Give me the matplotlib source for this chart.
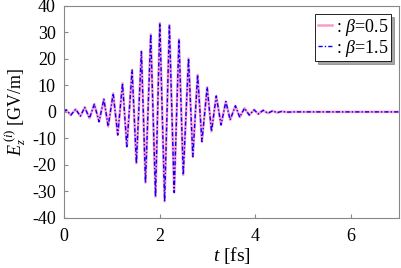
import numpy as np
import matplotlib
matplotlib.use("Agg")
import matplotlib.pyplot as plt

plt.rcParams['font.family'] = ['Liberation Serif', 'DejaVu Serif']
plt.rcParams['mathtext.fontset'] = 'custom'
plt.rcParams['mathtext.rm'] = 'Liberation Serif'
plt.rcParams['mathtext.it'] = 'Liberation Serif:italic'
plt.rcParams['axes.unicode_minus'] = False
plt.rcParams['font.size'] = 13

# --- data (extrema of the oscillating field) ---
t_fs = [0.00, 0.04, 0.14, 0.24, 0.34, 0.43, 0.53, 0.63, 0.73, 0.83, 0.92,
        1.025, 1.12, 1.22, 1.31, 1.42, 1.51, 1.615, 1.70, 1.81, 1.91,
        2.00, 2.10, 2.20, 2.30, 2.40, 2.49, 2.60, 2.69, 2.79, 2.88,
        2.99, 3.08, 3.18, 3.28, 3.38, 3.47, 3.58, 3.67, 3.77, 3.87,
        3.97, 4.06, 4.16, 4.26, 4.36, 4.45, 4.55, 4.65, 4.80, 7.00]
e_beta05 = [0.0, 0.8, -1.2, 1.0, -1.6, 1.7, -2.4, 2.9, -3.7, 4.8, -5.5,
            7.0, -8.7, 10.8, -13.1, 15.8, -19.4, 22.8, -26.7, 29.3, -32.0,
            33.5, -33.8, 32.8, -30.4, 27.4, -23.8, 20.2, -16.9, 14.0, -11.2,
            9.3, -7.4, 6.0, -4.9, 3.9, -3.0, 2.3, -2.0, 1.4, -1.2,
            0.8, -0.8, 0.6, -0.5, 0.4, -0.3, 0.2, -0.1, 0.0, 0.0]
e_beta15 = list(e_beta05)  # curves overlap in the reference

fig = plt.figure(figsize=(4.01, 2.68), dpi=100)
ax = fig.add_axes([0.16, 0.187, 0.835, 0.791])

ax.plot(t_fs, e_beta05, color='#ff99cc', lw=1.8, ls='-', label=r': $\beta$=0.5')
ax.plot(t_fs, e_beta15, color='#0000ff', lw=1.0, ls='-.', dashes=(3, 1.5, 1, 1.5),
        label=r': $\beta$=1.5')

ax.set_xlim(0, 7)
ax.set_ylim(-40, 40)
ax.set_xticks([0, 2, 4, 6])
ax.set_yticks(np.arange(-40, 41, 10))
ax.tick_params(direction='in', length=3, color='#888888', labelsize=13)
ax.tick_params(axis='x', pad=7)
ax.tick_params(axis='y', pad=6)
for s in ax.spines.values():
    s.set_color('#888888')

ax.set_xlabel(r'$t$ [fs]', fontsize=14, labelpad=0)
ax.set_ylabel(r'$E_z^{\,(i)}$ [GV/m]', fontsize=13, labelpad=3)

leg = ax.legend(loc='upper right', fontsize=13, handlelength=0.8, handletextpad=0.2,
                borderpad=0.15, labelspacing=0.0, fancybox=False, shadow=True,
                framealpha=1, edgecolor='black', borderaxespad=0.45)
leg.get_frame().set_linewidth(0.6)

fig.savefig('out.png', dpi=100)
